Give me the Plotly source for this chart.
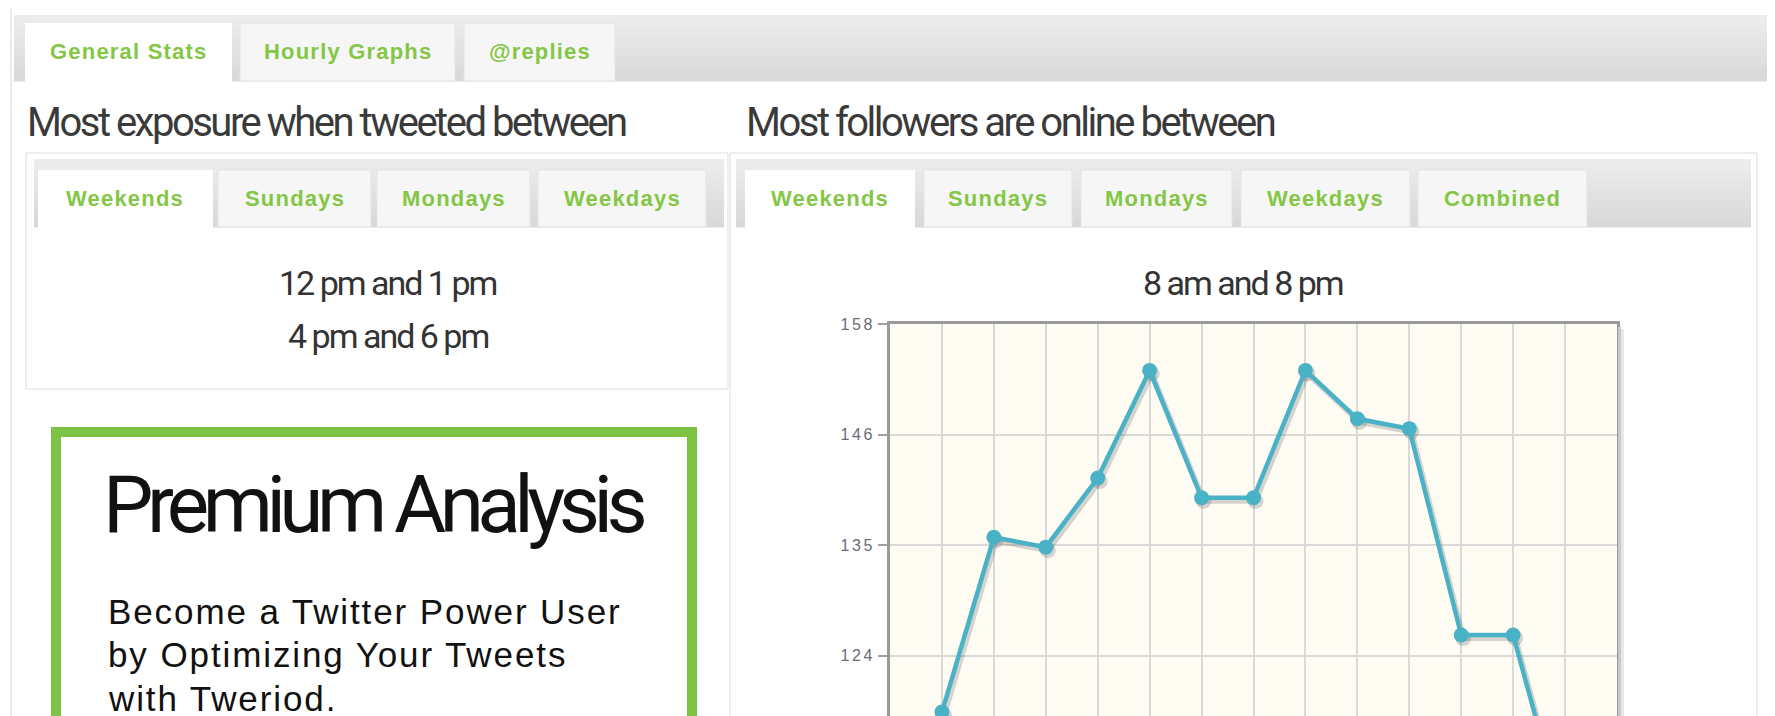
import plotly.graph_objects as go

# ---------------- data ----------------
hours = [1, 2, 3, 4, 5, 6, 7, 8, 9, 10, 11, 12, 13]
followers_online = [118.7, 136.4, 135.4, 142.4, 153.3, 140.4, 140.4, 153.3, 148.4, 147.4, 126.5, 126.5, 107.3]
y_tick_vals = [158, 146.8, 135.6, 124.4, 113.2]
y_tick_text = ["158", "146", "135", "124", "113"]

main_tabs = ["General Stats", "Hourly Graphs", "@replies"]
left_tabs = ["Weekends", "Sundays", "Mondays", "Weekdays"]
right_tabs = ["Weekends", "Sundays", "Mondays", "Weekdays", "Combined"]
left_title = "Most exposure when tweeted between"
right_title = "Most followers are online between"
left_result = ["12 pm and 1 pm", "4 pm and 6 pm"]
right_result = "8 am and 8 pm"
promo_title = "Premium Analysis"
promo_lines = ["Become a Twitter Power User", "by Optimizing Your Tweets", "with Tweriod."]

# ---------------- layout helpers ----------------
W, H = 1775, 716
OFF = 8  # page body margin around the figure

def px(x):
    return (x - OFF) / W

def py(y):
    return 1 - (y - OFF) / H

GREEN = "#7dc242"
TAB_GREEN = "#84c645"
LINE = "#4ab2c6"
COND = "Roboto, Liberation Sans, sans-serif"
ARIAL = "Liberation Sans, Arial, sans-serif"

shapes = []
annotations = []

def rect(x0, y0, x1, y1, fill=None, line=None, lw=1, layer="below"):
    shapes.append(dict(type="rect", xref="paper", yref="paper",
                       x0=px(x0), x1=px(x1), y0=py(y1), y1=py(y0),
                       fillcolor=fill if fill else "rgba(0,0,0,0)",
                       line=dict(color=line if line else "rgba(0,0,0,0)", width=lw if line else 0),
                       layer=layer))

def hexmix(c1, c2, t):
    a = [int(c1[i:i + 2], 16) for i in (1, 3, 5)]
    b = [int(c2[i:i + 2], 16) for i in (1, 3, 5)]
    return "#%02x%02x%02x" % tuple(round(a[k] + (b[k] - a[k]) * t) for k in range(3))

def gradient(x0, y0, x1, y1, ctop, cbot, n=10):
    h = (y1 - y0) / n
    for i in range(n):
        rect(x0, y0 + i * h, x1, y0 + (i + 1) * h + 0.6, fill=hexmix(ctop, cbot, i / (n - 1)))

def spaced(s, ls):
    return '<span style="letter-spacing:%spx">%s</span>' % (ls, s)

def text(x, y, s, size, color="#333", family=ARIAL, xanchor="center", bold=False, ls=0):
    t = ("<b>%s</b>" % s) if bold else s
    if ls:
        t = spaced(t, ls)
    annotations.append(dict(xref="paper", yref="paper", x=px(x), y=py(y), text=t,
                            showarrow=False, xanchor=xanchor, yanchor="middle",
                            font=dict(size=size, color=color, family=family)))

def tab_row(labels, boxes, ytop, ybot, active=0, size=22, dy=0.5):
    for i, (lab, (a, b)) in enumerate(zip(labels, boxes)):
        if i == active:
            rect(a, ytop, b, ybot + 1.5, fill="#ffffff")
        else:
            rect(a, ytop, b, ybot, fill="#f6f6f6", line="#e3e3e3", lw=1)
        text((a + b) / 2, (ytop + ybot) / 2 + dy, lab, size, TAB_GREEN, ARIAL, bold=True, ls=1.2)

# outer frame
rect(11, 7, 1790, 740, line="#d6d6d6", lw=1)
# main tab strip
gradient(14, 15, 1790, 81, "#ececec", "#d9d9d9")
tab_row(main_tabs, [(25, 232), (240, 455), (464, 615)], 23, 81, dy=0)

# section titles
text(25, 123, left_title, 40, "#3a3a3a", COND, xanchor="left", ls=-2.5)
text(744, 123, right_title, 40, "#3a3a3a", COND, xanchor="left", ls=-2.5)

# left panel
rect(26, 153, 728, 389, line="#dddddd", lw=1)
gradient(34, 159, 724, 227, "#ececec", "#d9d9d9")
tab_row(left_tabs, [(38, 213), (218, 371), (377, 530), (538, 706)], 170, 227)
text(388, 283, left_result[0], 34, "#333333", COND, ls=-2)
text(388, 336, left_result[1], 34, "#333333", COND, ls=-2)

# right panel
rect(730, 153, 1757, 760, line="#dddddd", lw=1)
gradient(736, 159, 1751, 227, "#ececec", "#d9d9d9")
tab_row(right_tabs, [(745, 915), (924, 1072), (1081, 1232), (1241, 1410), (1418, 1587)], 170, 227)
text(1243, 283, right_result, 34, "#333333", COND, ls=-2)

# promo box
rect(56, 432, 692, 760, fill="#ffffff", line=GREEN, lw=10)
text(373, 505, promo_title, 80, "#111111", COND, ls=-6.5)
for i, ln in enumerate(promo_lines):
    text(106, 611 + i * 43.5, ln, 35, "#111111", ARIAL, xanchor="left", ls=1.9)

# chart background and right-hand shadow
rect(890, 324, 1617, 760, fill="#fffcf4")
rect(1618, 327, 1621, 760, fill="#c9c9c9", layer="above")
rect(1621, 329, 1624, 760, fill="#e8e8e8", layer="above")

fig = go.Figure()
# grid/axes frame subplot (xy) -- carries no visible data
fig.add_trace(go.Scatter(x=hours, y=followers_online, mode="lines",
                         line=dict(color="rgba(0,0,0,0)"), hoverinfo="skip",
                         showlegend=False, xaxis="x", yaxis="y"))
# soft drop shadow of the series (x2y2, shifted a couple of pixels)
fig.add_trace(go.Scatter(x=hours, y=followers_online, mode="lines+markers",
                         line=dict(color="rgba(70,70,70,0.22)", width=6),
                         marker=dict(color="rgba(70,70,70,0.22)", size=16),
                         hoverinfo="skip", showlegend=False, xaxis="x2", yaxis="y2"))
# the series itself (x3y3)
fig.add_trace(go.Scatter(x=hours, y=followers_online, mode="lines+markers",
                         line=dict(color=LINE, width=4.5),
                         marker=dict(color=LINE, size=15),
                         hoverinfo="skip", showlegend=False, xaxis="x3", yaxis="y3"))

XR = [0, 14]
YR = [118.2, 158]
PLOT_TOP = 324
hidden = dict(showgrid=False, showticklabels=False, ticks="", zeroline=False, showline=False,
              automargin=False)

fig.update_layout(
    width=W, height=H,
    margin=dict(l=0, r=0, t=0, b=0, pad=0, autoexpand=False),
    paper_bgcolor="#ffffff",
    plot_bgcolor="rgba(0,0,0,0)",
    shapes=shapes,
    annotations=annotations,
    xaxis=dict(domain=[px(890), px(1617)], range=XR, dtick=1, tick0=0, automargin=False,
               showgrid=True, gridcolor="#d9d9d9", gridwidth=1.5,
               showticklabels=False, ticks="", zeroline=False,
               side="top", showline=True, linecolor="#9a9a9a", linewidth=3, mirror=False),
    yaxis=dict(domain=[py(717), py(PLOT_TOP)], range=YR, automargin=False,
               tickmode="array", tickvals=y_tick_vals,
               ticktext=[spaced(t, 2.5) for t in y_tick_text],
               showgrid=True, gridcolor="#d9d9d9", gridwidth=1.5, zeroline=False,
               ticks="outside", ticklen=9, tickwidth=2, tickcolor="#a0a0a0",
               tickfont=dict(size=16, color="#6a6b78", family=ARIAL),
               showline=True, linecolor="#9a9a9a", linewidth=3, mirror=True),
    xaxis2=dict(domain=[px(892), px(1619)], range=XR, anchor="y2", **hidden),
    yaxis2=dict(domain=[py(720), py(PLOT_TOP + 3)], range=YR, anchor="x2", **hidden),
    xaxis3=dict(domain=[px(890), px(1617)], range=XR, anchor="y3", **hidden),
    yaxis3=dict(domain=[py(717), py(PLOT_TOP)], range=YR, anchor="x3", **hidden),
)

fig.write_html("out.html")
